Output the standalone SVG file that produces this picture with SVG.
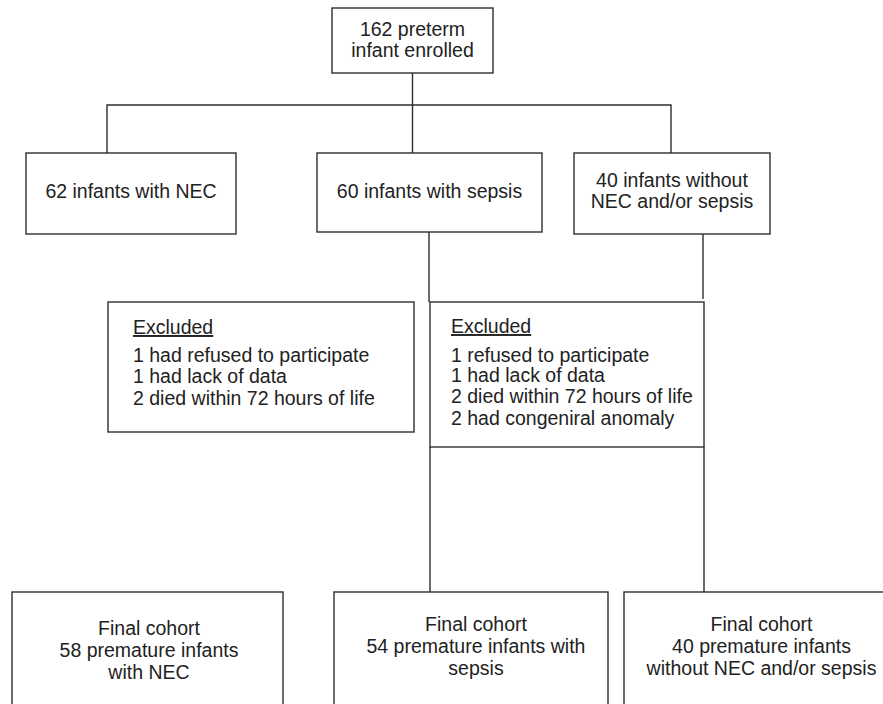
<svg xmlns="http://www.w3.org/2000/svg" width="883" height="704" viewBox="0 0 883 704">
<style>
.b{fill:#fff;stroke:#2e2e2e;stroke-width:1.4}
.l{fill:none;stroke:#2e2e2e;stroke-width:1.4}
text{font-family:"Liberation Sans",Arial,sans-serif;font-size:19.5px;fill:#222}
.c{text-anchor:middle}
</style>
<rect width="883" height="704" fill="#fff"/>
<g id="connectors">
<path class="l" d="M412.5 73V153M107 153V105H671V153"/>
<path class="l" d="M429 232V302M430 447V592"/>
<path class="l" d="M703 234V299M704 447V592"/>
</g>
<g id="enrolled">
<rect class="b" x="332" y="8" width="161" height="65"/>
<text class="c" x="412.5" y="36">162 preterm</text>
<text class="c" x="412.5" y="57">infant enrolled</text>
</g>
<g id="nec">
<rect class="b" x="26" y="153" width="210" height="81"/>
<text class="c" x="131" y="198">62 infants with NEC</text>
</g>
<g id="sepsis">
<rect class="b" x="317" y="153" width="225" height="79"/>
<text class="c" x="429.5" y="198">60 infants with sepsis</text>
</g>
<g id="neither">
<rect class="b" x="574" y="153" width="196" height="81"/>
<text class="c" x="672" y="187">40 infants without</text>
<text class="c" x="672" y="208">NEC and/or sepsis</text>
</g>
<g id="excluded1">
<rect class="b" x="108" y="302" width="306" height="130"/>
<text x="133" y="334" text-decoration="underline">Excluded</text>
<text x="133" y="362">1 had refused to participate</text>
<text x="133" y="383">1 had lack of data</text>
<text x="133" y="405">2 died within 72 hours of life</text>
</g>
<g id="excluded2">
<rect class="b" x="430" y="302" width="274" height="145"/>
<text x="451" y="333" text-decoration="underline">Excluded</text>
<text x="451" y="362">1 refused to participate</text>
<text x="451" y="382">1 had lack of data</text>
<text x="451" y="403">2 died within 72 hours of life</text>
<text x="451" y="425">2 had congeniral anomaly</text>
</g>
<g id="final-nec">
<rect class="b" x="12" y="592" width="271" height="120"/>
<text class="c" x="149" y="635">Final cohort</text>
<text class="c" x="149" y="657">58 premature infants</text>
<text class="c" x="149" y="679">with NEC</text>
</g>
<g id="final-sepsis">
<rect class="b" x="334" y="592" width="274" height="120"/>
<text class="c" x="476" y="631">Final cohort</text>
<text class="c" x="476" y="653">54 premature infants with</text>
<text class="c" x="476" y="675">sepsis</text>
</g>
<g id="final-neither">
<rect class="b" x="624" y="592" width="280" height="120"/>
<text class="c" x="761.5" y="631">Final cohort</text>
<text class="c" x="761.5" y="653">40 premature infants</text>
<text class="c" x="761.5" y="675">without NEC and/or sepsis</text>
</g>
</svg>
